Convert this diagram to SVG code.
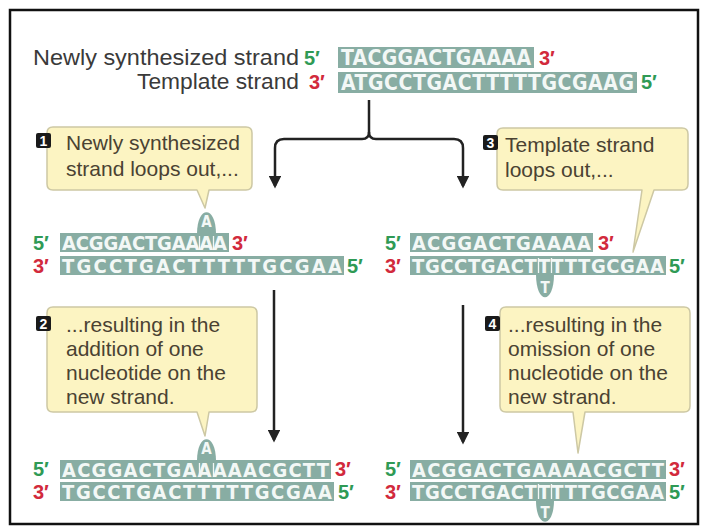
<svg xmlns="http://www.w3.org/2000/svg" width="701" height="528" viewBox="0 0 701 528">
  <defs>
    <style>
      .lbl{font-family:"Liberation Sans",Arial,sans-serif;font-size:22px;fill:#3a3a3a}
      .call{font-family:"Liberation Sans",Arial,sans-serif;font-size:21px;fill:#4a4232}
      .bubble{fill:#fcf4c2;stroke:#cdc8a4;stroke-width:1.5;stroke-linejoin:round}
      .dna{fill:#88ada3}
      .seq{font-family:"Liberation Sans Narrow","DejaVu Sans Condensed","Liberation Sans",sans-serif;font-weight:700;font-size:20px;fill:#f3f8f6}
      .seqL{font-size:21px}
      .loopch{font-family:"Liberation Sans Narrow","DejaVu Sans Condensed","Liberation Sans",sans-serif;font-weight:700;font-size:15px;fill:#f3f8f6;text-anchor:middle}
      .p5{font-family:"Liberation Sans",Arial,sans-serif;font-weight:700;font-size:20px;fill:#2f9a55}
      .p3{font-family:"Liberation Sans",Arial,sans-serif;font-weight:700;font-size:20px;fill:#d22a3c}
      .badge{fill:#1a1a1a}
      .num{font-family:"Liberation Sans",Arial,sans-serif;font-weight:700;font-size:14px;fill:#ffffff;text-anchor:middle}
      .conn{fill:none;stroke:#222;stroke-width:2.5}
      .leg{stroke:#f3f8f6;stroke-width:1.3}
    </style>
    <marker id="ah" viewBox="0 0 10 10" refX="8" refY="5" markerWidth="5.4" markerHeight="5" orient="auto" markerUnits="strokeWidth">
      <path d="M0,0 L10,5 L0,10 Z" fill="#222"/>
    </marker>
  </defs>

  <rect x="0" y="0" width="701" height="528" fill="#ffffff"/>
  <rect x="10" y="10" width="688" height="514" fill="none" stroke="#111" stroke-width="2.5"/>

  <!-- starting duplex -->
  <g id="start-duplex">
    <text class="lbl" x="299" y="65" text-anchor="end" textLength="266" lengthAdjust="spacingAndGlyphs">Newly synthesized strand</text>
    <text class="p5" x="304" y="65">5′</text>
    <rect class="dna" x="338" y="47" width="196" height="21"/>
    <text class="seq seqL" x="341" y="65" textLength="190" lengthAdjust="spacing">TACGGACTGAAAA</text>
    <text class="p3" x="539" y="65">3′</text>

    <text class="lbl" x="299" y="89" text-anchor="end" textLength="162" lengthAdjust="spacingAndGlyphs">Template strand</text>
    <text class="p3" x="309" y="89">3′</text>
    <rect class="dna" x="338" y="72" width="299" height="21"/>
    <text class="seq seqL" x="341" y="90" textLength="293" lengthAdjust="spacing">ATGCCTGACTTTTTGCGAAG</text>
    <text class="p5" x="641" y="89">5′</text>
  </g>

  <!-- connectors -->
  <g id="connectors">
    <path class="conn" d="M369,100 V132"/>
    <path class="conn" marker-end="url(#ah)" d="M369,132 Q369,139 362,139 H284 Q275,139 275,148 V186"/>
    <path class="conn" marker-end="url(#ah)" d="M369,132 Q369,139 376,139 H454 Q463,139 463,148 V186"/>
    <path class="conn" marker-end="url(#ah)" d="M274,290 V440"/>
    <path class="conn" marker-end="url(#ah)" d="M463,305 V442"/>
  </g>

  <!-- step 1 callout -->
  <g id="callout-1">
    <path class="bubble" d="M53,127 H246 Q252,127 252,133 V184 Q252,190 246,190 H209 L205,208 L197,190 H53 Q47,190 47,184 V133 Q47,127 53,127 Z"/>
    <rect class="badge" x="36" y="133" width="15" height="15" rx="2"/>
    <text class="num" x="43.5" y="146">1</text>
    <text class="call" x="66" y="150">Newly synthesized</text>
    <text class="call" x="66" y="176">strand loops out,...</text>
  </g>

  <!-- step 3 callout -->
  <g id="callout-3">
    <path class="bubble" d="M503,128 H682 Q688,128 688,134 V184 Q688,190 682,190 H654 L633,252 L642,190 H503 Q497,190 497,184 V134 Q497,128 503,128 Z"/>
    <rect class="badge" x="483" y="135" width="15" height="15" rx="2"/>
    <text class="num" x="490.5" y="148">3</text>
    <text class="call" x="505" y="152">Template strand</text>
    <text class="call" x="505" y="177">loops out,...</text>
  </g>

  <!-- duplex with looped-out new strand -->
  <g id="duplex-insertion">
    <text class="p5" x="33" y="250">5′</text>
    <rect class="dna" x="60" y="233" width="169" height="19"/>
    <path class="dna" d="M197,234 C197,205 216,205 216,234 Z"/>
    <text class="loopch" x="206.5" y="227">A</text>
    <text class="seq" x="62" y="250" textLength="165" lengthAdjust="spacing">ACGGACTGAAAA</text>
    <line class="leg" x1="199.5" y1="236" x2="199.5" y2="250"/>
    <line class="leg" x1="213.5" y1="236" x2="213.5" y2="250"/>
    <text class="p3" x="232" y="250">3′</text>

    <text class="p3" x="33" y="273">3′</text>
    <rect class="dna" x="60" y="256" width="284" height="19"/>
    <text class="seq" x="62" y="273" textLength="280" lengthAdjust="spacing">TGCCTGACTTTTTGCGAA</text>
    <text class="p5" x="347" y="273">5′</text>
  </g>

  <!-- duplex with looped-out template strand -->
  <g id="duplex-deletion">
    <text class="p5" x="385" y="250">5′</text>
    <rect class="dna" x="410" y="233" width="183" height="19"/>
    <text class="seq" x="412" y="250" textLength="179" lengthAdjust="spacing">ACGGACTGAAAA</text>
    <text class="p3" x="598" y="250">3′</text>

    <text class="p3" x="385" y="273">3′</text>
    <rect class="dna" x="410" y="256" width="256" height="19"/>
    <path class="dna" d="M536,274 C536,305 554,305 554,274 Z"/>
    <text class="seq" x="412" y="273" textLength="252" lengthAdjust="spacing">TGCCTGACTTTTTGCGAA</text>
    <text class="loopch" x="545" y="293">T</text>
    <line class="leg" x1="538.5" y1="258" x2="538.5" y2="273"/>
    <line class="leg" x1="551.5" y1="258" x2="551.5" y2="273"/>
    <text class="p5" x="669" y="273">5′</text>
  </g>

  <!-- step 2 callout -->
  <g id="callout-2">
    <path class="bubble" d="M53,307 H251 Q257,307 257,313 V406 Q257,412 251,412 H209 L205,436 L197,412 H53 Q47,412 47,406 V313 Q47,307 53,307 Z"/>
    <rect class="badge" x="36" y="316" width="15" height="15" rx="2"/>
    <text class="num" x="43.5" y="329">2</text>
    <text class="call" x="66" y="332">...resulting in the</text>
    <text class="call" x="66" y="356">addition of one</text>
    <text class="call" x="66" y="380">nucleotide on the</text>
    <text class="call" x="66" y="404">new strand.</text>
  </g>

  <!-- step 4 callout -->
  <g id="callout-4">
    <path class="bubble" d="M506,307 H684 Q690,307 690,313 V406 Q690,412 684,412 H585 L578,453 L573,412 H506 Q500,412 500,406 V313 Q500,307 506,307 Z"/>
    <rect class="badge" x="485" y="316" width="15" height="15" rx="2"/>
    <text class="num" x="492.5" y="329">4</text>
    <text class="call" x="508" y="332">...resulting in the</text>
    <text class="call" x="508" y="356">omission of one</text>
    <text class="call" x="508" y="380">nucleotide on the</text>
    <text class="call" x="508" y="404">new strand.</text>
  </g>

  <!-- replicated product with one extra nucleotide -->
  <g id="product-insertion">
    <text class="p5" x="33" y="476">5′</text>
    <rect class="dna" x="60" y="460" width="271" height="19"/>
    <path class="dna" d="M197,461 C197,432 216,432 216,461 Z"/>
    <text class="loopch" x="206.5" y="454">A</text>
    <text class="seq" x="62" y="477" textLength="267" lengthAdjust="spacing">ACGGACTGAAAAACGCTT</text>
    <line class="leg" x1="199.5" y1="463" x2="199.5" y2="477"/>
    <line class="leg" x1="213.5" y1="463" x2="213.5" y2="477"/>
    <text class="p3" x="335" y="476">3′</text>

    <text class="p3" x="33" y="499">3′</text>
    <rect class="dna" x="60" y="482" width="274" height="19"/>
    <text class="seq" x="62" y="499" textLength="270" lengthAdjust="spacing">TGCCTGACTTTTTGCGAA</text>
    <text class="p5" x="338" y="499">5′</text>
  </g>

  <!-- replicated product with one missing nucleotide -->
  <g id="product-deletion">
    <text class="p5" x="385" y="476">5′</text>
    <rect class="dna" x="410" y="460" width="256" height="19"/>
    <text class="seq" x="412" y="477" textLength="252" lengthAdjust="spacing">ACGGACTGAAAACGCTT</text>
    <text class="p3" x="669" y="476">3′</text>

    <text class="p3" x="385" y="499">3′</text>
    <rect class="dna" x="410" y="482" width="256" height="19"/>
    <path class="dna" d="M536,500 C536,529 554,529 554,500 Z"/>
    <text class="seq" x="412" y="499" textLength="252" lengthAdjust="spacing">TGCCTGACTTTTTGCGAA</text>
    <text class="loopch" x="545" y="518">T</text>
    <line class="leg" x1="538.5" y1="484" x2="538.5" y2="499"/>
    <line class="leg" x1="551.5" y1="484" x2="551.5" y2="499"/>
    <text class="p5" x="669" y="499">5′</text>
  </g>
</svg>
